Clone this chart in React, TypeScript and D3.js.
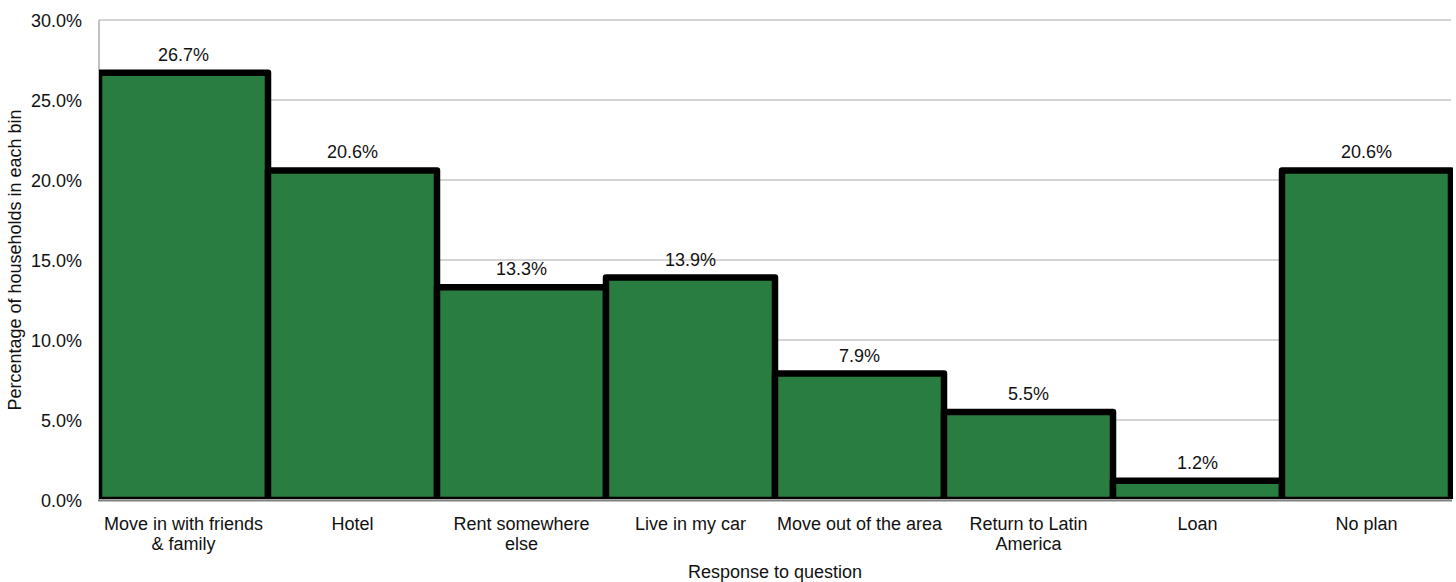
import React from "react";
import * as d3 from "d3";

const categories = [
  "Move in with friends & family",
  "Hotel",
  "Rent somewhere else",
  "Live in my car",
  "Move out of the area",
  "Return to Latin America",
  "Loan",
  "No plan",
];
const categoryLines = [
  ["Move in with friends", "& family"],
  ["Hotel"],
  ["Rent somewhere", "else"],
  ["Live in my car"],
  ["Move out of the area"],
  ["Return to Latin", "America"],
  ["Loan"],
  ["No plan"],
];
const values = [0.267, 0.206, 0.133, 0.139, 0.079, 0.055, 0.012, 0.206];
const yTicks = [0, 0.05, 0.1, 0.15, 0.2, 0.25, 0.3];
const xTitle = "Response to question";
const yTitle = "Percentage of households in each bin";

const W = 1456;
const H = 582;
const left = 99;
const right = 1451;
const top = 20;
const bottom = 500;
const font = "'Liberation Sans', Arial, sans-serif";

export default function App() {
  const x = d3.scaleBand<string>().domain(categories).range([left, right]).padding(0);
  const y = d3.scaleLinear().domain([0, 0.3]).range([bottom, top]);
  const fmt = d3.format(".1%");

  return (
    <svg
      width={W}
      height={H}
      style={{ position: "absolute", left: 0, top: 0, background: "#fff" }}
      fontFamily={font}
    >
      <defs>
        <clipPath id="plotClip">
          <rect x={left} y={0} width={right - left + 2} height={bottom - 1} />
        </clipPath>
      </defs>
      {yTicks.map((t) => (
        <line
          key={"g" + t}
          x1={left}
          x2={right}
          y1={y(t)}
          y2={y(t)}
          stroke="#c6c6c6"
          strokeWidth={1.3}
        />
      ))}
      <line x1={left} x2={left} y1={top} y2={bottom} stroke="#a0a0a0" strokeWidth={1.3} />
      <g clipPath="url(#plotClip)">
        {categories.map((c, i) => (
          <rect
            key={c}
            x={x(c)!}
            y={y(values[i])}
            width={x.bandwidth()}
            height={bottom - y(values[i])}
            fill="#2a7d40"
            stroke="#000"
            strokeWidth={6.5}
            strokeLinejoin="round"
          />
        ))}
      </g>
      <line x1={left - 1} x2={right + 1} y1={bottom + 0.5} y2={bottom + 0.5} stroke="#808080" strokeWidth={2} />
      {categories.map((c, i) => (
        <text
          key={"v" + c}
          x={x(c)! + x.bandwidth() / 2}
          y={y(values[i]) - 12}
          textAnchor="middle"
          fontSize={18}
          fill="#111"
        >
          {fmt(values[i])}
        </text>
      ))}
      {yTicks.map((t) => (
        <text
          key={"t" + t}
          x={82}
          y={y(t) + 6.5}
          textAnchor="end"
          fontSize={18}
          fill="#111"
        >
          {fmt(t)}
        </text>
      ))}
      {categories.map((c, i) => (
        <text
          key={"x" + c}
          x={x(c)! + x.bandwidth() / 2}
          y={530}
          textAnchor="middle"
          fontSize={18}
          fill="#111"
        >
          {categoryLines[i].map((ln, j) => (
            <tspan key={j} x={x(c)! + x.bandwidth() / 2} dy={j === 0 ? 0 : 20}>
              {ln}
            </tspan>
          ))}
        </text>
      ))}
      <text x={(left + right) / 2} y={578} textAnchor="middle" fontSize={18} fill="#111">
        {xTitle}
      </text>
      <text
        transform={`translate(21, ${(top + bottom) / 2}) rotate(-90)`}
        textAnchor="middle"
        fontSize={18}
        fill="#111"
      >
        {yTitle}
      </text>
    </svg>
  );
}
